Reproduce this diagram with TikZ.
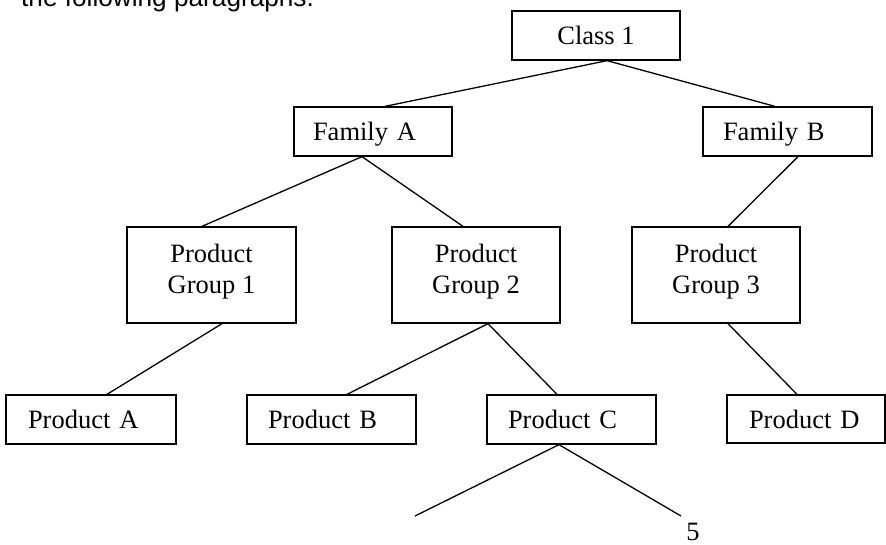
\documentclass[tikz,border=0pt]{standalone}
\usepackage{fontspec}
\setmainfont{Liberation Serif}
\newfontfamily\sansf{Liberation Sans}
\usetikzlibrary{calc}
\begin{document}
\begin{tikzpicture}[x=1pt,y=-1pt,
  box/.style={draw, line width=1.3pt, rectangle, inner sep=0pt,
    font=\fontsize{26.5}{31}\selectfont, text height=18pt, text depth=0pt},
  lbox/.style={box, align=left},
  pg/.style={box, align=center, text height=36pt, text depth=0pt},
  conn/.style={line width=1.3pt}]
\useasboundingbox (0,0) rectangle (886,544);
\node[anchor=base west, inner sep=0pt, font=\sansf\fontsize{26.2}{30}\selectfont] (intro) at (21,6) {the following paragraphs.};
\node[box, minimum width=168pt, minimum height=49pt] (c1) at (596,35.5) {Class 1};
\node[lbox, minimum width=158pt, minimum height=49pt, text width=120pt] (fa) at (373,131.5) {Family A};
\node[lbox, minimum width=169pt, minimum height=49pt, text width=129pt] (fb) at (787.5,131.5) {Family B};
\node[pg, minimum width=169pt, minimum height=96pt] (pg1) at (211.5,275) {Product\\Group 1};
\node[pg, minimum width=168pt, minimum height=96pt] (pg2) at (476,275) {Product\\Group 2};
\node[pg, minimum width=168pt, minimum height=96pt] (pg3) at (716,275) {Product\\Group 3};
\node[lbox, minimum width=170pt, minimum height=49pt, text width=126pt] (pA) at (91,419.5) {Product A};
\node[lbox, minimum width=169pt, minimum height=49pt, text width=127pt] (pB) at (331.5,419.5) {Product B};
\node[lbox, minimum width=169pt, minimum height=49pt, text width=127pt] (pC) at (571.5,419.5) {Product C};
\node[lbox, minimum width=158pt, minimum height=48pt, text width=114pt] (pD) at (806,419) {Product D};
\node[anchor=base, inner sep=0pt, font=\fontsize{26.5}{31}\selectfont] (five) at (693,540) {5};
\coordinate (endL) at (415,516);
\coordinate (endR) at (681,516);
\draw[conn] ([xshift=11pt]c1.south) -- ([xshift=12pt]fa.north);
\draw[conn] ([xshift=11pt]c1.south) -- ([xshift=-12.5pt]fb.north);
\draw[conn] ([xshift=-11pt]fa.south) -- ([xshift=-9.5pt]pg1.north);
\draw[conn] ([xshift=-11pt]fa.south) -- ([xshift=-13pt]pg2.north);
\draw[conn] ([xshift=10.5pt]fb.south) -- ([xshift=12pt]pg3.north);
\draw[conn] ([xshift=10.5pt]pg1.south) -- ([xshift=16pt]pA.north);
\draw[conn] ([xshift=12pt]pg2.south) -- ([xshift=15.5pt]pB.north);
\draw[conn] ([xshift=12pt]pg2.south) -- ([xshift=-14.5pt]pC.north);
\draw[conn] ([xshift=12pt]pg3.south) -- ([xshift=-9pt]pD.north);
\draw[conn] ([xshift=-12.5pt]pC.south) -- (endL);
\draw[conn] ([xshift=-12.5pt]pC.south) -- (endR);
\end{tikzpicture}
\end{document}
